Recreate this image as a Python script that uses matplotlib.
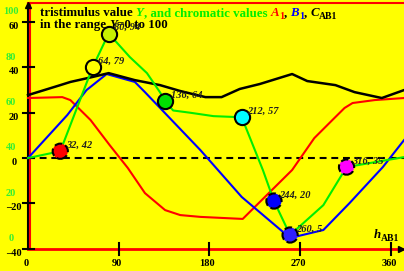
import matplotlib
matplotlib.use("Agg")
import matplotlib.pyplot as plt

# hue angle h_AB1 (deg) and curve values
hue_c = [0, 32, 42, 64, 80, 106, 131, 151, 176, 192, 210, 230, 262, 277, 305, 324, 351, 373]
C_ab1 = [27.8, 32.2, 33.6, 35.8, 37.5, 34.4, 32.2, 29.6, 26.9, 26.9, 30.5, 32.7, 37.1, 34.0, 32.2, 29.1, 26.5, 30.0]

hue_a = [0, 34, 42, 62, 81, 99, 116, 136, 151, 171, 213, 220, 262, 284, 302, 314, 322, 344, 373]
A_1 = [26.5, 26.9, 25.6, 16.8, 5.7, -4.4, -15.5, -23.0, -25.2, -26.0, -26.9, -23.8, -5.3, 8.8, 16.8, 22.1, 24.3, 25.6, 26.5]

hue_b = [0, 39, 58, 78, 106, 116, 171, 212, 260, 293, 319, 352, 373]
B_1 = [0, 19.0, 30.0, 37.1, 33.6, 29.1, 3.5, -17.2, -35.3, -31.8, -19.9, -4.0, 7.9]

hue_y = [0, 32, 64, 80, 101, 118, 131, 136, 144, 161, 184, 212, 233, 244, 260, 293, 316, 373]
Y = [39, 42, 79, 94, 83.6, 76.5, 68, 64, 60, 59, 57.5, 57, 33.7, 20, 5, 18.2, 35, 39.4]
y_shift = 39  # Y is drawn shifted down onto the left scale

mark_h = [32, 64, 80, 136, 212, 244, 260, 316]
mark_Y = [42, 79, 94, 64, 57, 20, 5, 35]
mark_col = ['#ff0000', '#ffff00', '#c8f000', '#00e000', '#00ffff', '#0000ff', '#3020ff', '#ff00ff']
mark_dash = [True, False, False, False, False, True, True, True]

left_ticks = [60, 40, 20, 0, -20, -40]
green_ticks = [100, 80, 60, 40, 20, 0]
x_ticks = [0, 90, 180, 270, 360]

SERIF = 'Liberation Serif'
GREEN = '#00ee00'

fig = plt.figure(figsize=(4.04, 2.71), dpi=100)
fig.patch.set_facecolor('#ffff00')
ax = fig.add_axes([0, 0, 1, 1])
ax.set_facecolor('#ffff00')
ax.set_xlim(-27.8, 373.0)
ax.set_ylim(-49.9, 69.8)
ax.axis('off')


def P(px, py):
    # pixel position of the reference -> data coords
    return (px - 28) / 1.008, (158 - py) / 2.265


top = P(0, 3)[1]
right = P(404, 0)[0]

# frame / axes
ax.plot([0, 0], [-40, top], color='black', lw=1.5, solid_capstyle='butt')
ax.plot([1.6, 1.6], [-40, top], color='red', lw=1.5)
ax.plot([0, right], [top, top], color='red', lw=1.5)
ax.plot([0, right], [-40, -40], color='red', lw=2)
ax.plot([0], [top - 1], marker='^', color='black', ms=5)
ax.plot([right - 3], [-40], marker='>', color='black', ms=5)

for v in left_ticks:
    ax.plot([P(23, 0)[0], P(34, 0)[0]], [v, v], color='black', lw=1.5)
    ax.text(P(14, 0)[0], v - 2.0, str(v).replace('-', '\u2013'), ha='center', va='center',
            fontsize=7.5, fontweight='bold', family=SERIF, color='black')
for v in green_ticks:
    ax.text(P(11, 0)[0], v - 35.5, str(v), ha='center', va='center',
            fontsize=7.5, fontweight='bold', family=SERIF, color='#33ee33')
for v in x_ticks[1:]:
    ax.plot([v, v], [P(0, 243)[1], P(0, 255)[1]], color='black', lw=1.5)
for v in x_ticks:
    ax.text(v - 2, P(0, 264)[1], str(v), ha='center', va='center',
            fontsize=7.5, fontweight='bold', family=SERIF, color='black')

ax.plot([0, right], [0, 0], color='black', lw=1.5, dashes=(3.3, 2.3))

ax.plot(hue_a, A_1, color='red', lw=1.5)
ax.plot(hue_b, B_1, color='blue', lw=1.5)
ax.plot(hue_c, C_ab1, color='black', lw=1.8)
ax.plot(hue_y, [v - y_shift for v in Y], color=GREEN, lw=1.5)

for h, yv, c, d in zip(mark_h, mark_Y, mark_col, mark_dash):
    ax.scatter([h], [yv - y_shift], s=120, color=c, edgecolors='black', linewidths=1.5,
               linestyles='--' if d else '-', zorder=5)
    ax.text(h + 5.5, yv - y_shift + 2.6, '%d, %d' % (h, yv), fontsize=7.5, fontweight='bold',
            fontstyle='italic', family=SERIF, color='#202020', va='center', zorder=6)

renderer = fig.canvas.get_renderer()
inv = ax.transData.inverted()


def chain(px, py, pieces):
    x, y = P(px, py)
    for s, col, style, size, dy, gap in pieces:
        t = ax.text(x, y - dy, s, color=col, fontstyle=style, fontsize=size,
                    fontweight='bold', family=SERIF, va='baseline')
        bb = t.get_window_extent(renderer)
        x = inv.transform((bb.x1 + gap, 0))[0]


chain(40, 16, [
    ('tristimulus value', 'black', 'normal', 9.3, 0, 3),
    ('Y', GREEN, 'italic', 9.3, 0, 0),
    (', and chromatic values', GREEN, 'normal', 9.3, 0, 3),
    ('A', 'red', 'italic', 9.3, 0, 0),
    ('1', 'red', 'normal', 7.5, 1.3, 0),
    (',', 'black', 'normal', 9.3, 0, 3),
    ('B', 'blue', 'italic', 9.3, 0, 0),
    ('1', 'blue', 'normal', 7.5, 1.3, 0),
    (',', 'black', 'normal', 9.3, 0, 3),
    ('C', 'black', 'italic', 9.3, 0, 0),
    ('AB1', 'black', 'normal', 7, 1.3, 0),
])
chain(40, 28, [
    ('in the range', 'black', 'normal', 9.3, 0, 3),
    ('Y', 'black', 'italic', 9.3, 0, 0),
    ('=0 to 100', 'black', 'normal', 9.3, 0, 0),
])
chain(374, 238, [
    ('h', 'black', 'italic', 9.3, 0, 0),
    ('AB1', 'black', 'normal', 7, 1.3, 0),
])

fig.savefig('out.png', dpi=100, facecolor=fig.get_facecolor())
